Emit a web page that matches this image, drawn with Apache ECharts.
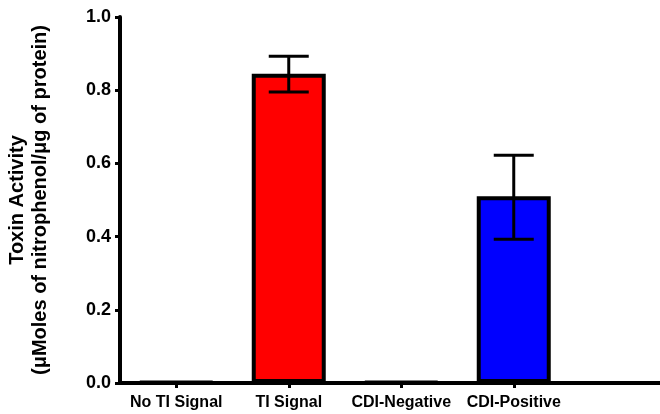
<!DOCTYPE html>
<html>
<head>
<meta charset="utf-8">
<script src="https://cdn.jsdelivr.net/npm/echarts@6/dist/echarts.min.js"></script>
<style>
  html, body { margin: 0; padding: 0; background: #fff; }
  #chart { width: 660px; height: 414px; }
</style>
</head>
<body>
<div id="chart"></div>
<script>
var categories = ['No TI Signal', 'TI Signal', 'CDI-Negative', 'CDI-Positive'];
var values = [0.003, 0.845, 0.003, 0.51];
var errLow = [null, 0.795, null, 0.393];
var errHigh = [null, 0.893, null, 0.622];
var colors = ['#ffffff', '#ff0000', '#ffffff', '#0000ff'];

var myChart = echarts.init(document.getElementById('chart'));
var font = 'Liberation Sans, Arial, sans-serif';

var barData = values.map(function (v, i) {
    return { value: [i, v], itemStyle: { color: colors[i] } };
});
var errData = [];
for (var i = 0; i < categories.length; i++) {
    if (errLow[i] != null) errData.push([i, errLow[i], errHigh[i]]);
}

var option = {
    animation: false,
    grid: { left: 120, right: 0, top: 17, bottom: 31, outerBoundsMode: 'none' },
    xAxis: {
        type: 'value',
        min: -0.5,
        max: 4.3,
        splitLine: { show: false },
        axisLine: { onZero: false, lineStyle: { color: '#000', width: 4 } },
        axisTick: {
            customValues: [0, 1, 2, 3],
            length: 5,
            lineStyle: { color: '#000', width: 3 }
        },
        axisLabel: {
            customValues: [0, 1, 2, 3],
            formatter: function (v) { return categories[Math.round(v)]; },
            color: '#000', fontWeight: 'bold', fontSize: 16, fontFamily: font,
            margin: 12
        }
    },
    yAxis: {
        type: 'value',
        min: 0,
        max: 1,
        interval: 0.2,
        splitLine: { show: false },
        axisLine: { show: true, onZero: false, lineStyle: { color: '#000', width: 4 } },
        axisTick: { show: true, length: 5, lineStyle: { color: '#000', width: 3 } },
        axisLabel: {
            formatter: function (v) { return v.toFixed(1); },
            color: '#000', fontWeight: 'bold', fontSize: 18, fontFamily: font,
            margin: 9
        },
        name: 'Toxin Activity\n(μMoles of nitrophenol/μg of protein)',
        nameLocation: 'middle',
        nameGap: 68,
        nameMoveOverlap: false,
        nameTextStyle: {
            color: '#000', fontWeight: 'bold', fontSize: 20, fontFamily: font,
            lineHeight: 23
        }
    },
    series: [
        {
            type: 'bar',
            data: barData,
            barWidth: 74,
            itemStyle: { borderColor: '#000', borderWidth: 4 }
        },
        {
            type: 'custom',
            data: errData,
            z: 5,
            renderItem: function (params, api) {
                var x = api.value(0);
                var lo = api.coord([x, api.value(1)]);
                var hi = api.coord([x, api.value(2)]);
                var hw = 20;
                var st = { stroke: '#000', lineWidth: 3 };
                return {
                    type: 'group',
                    children: [
                        { type: 'line', shape: { x1: lo[0], y1: lo[1], x2: hi[0], y2: hi[1] }, style: st },
                        { type: 'line', shape: { x1: hi[0] - hw, y1: hi[1], x2: hi[0] + hw, y2: hi[1] }, style: st },
                        { type: 'line', shape: { x1: lo[0] - hw, y1: lo[1], x2: lo[0] + hw, y2: lo[1] }, style: st }
                    ]
                };
            }
        }
    ]
};

myChart.setOption(option);
</script>
</body>
</html>
